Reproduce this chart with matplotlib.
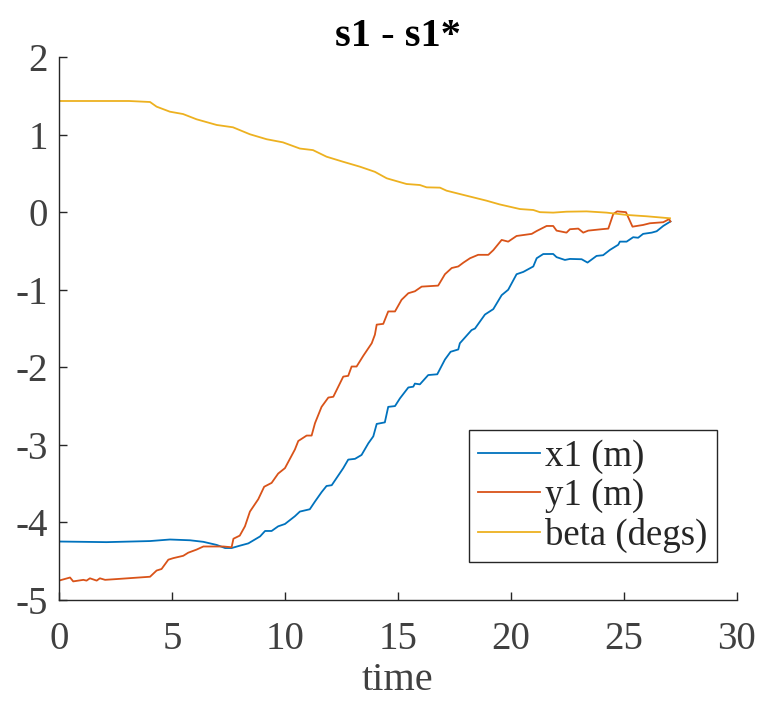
import matplotlib
matplotlib.use("Agg")
import matplotlib.pyplot as plt

# ---- data ----
x1_t = [0.0, 1.08, 2.1, 4.03, 4.91, 5.8, 6.39, 6.98, 7.35, 7.64, 8.0, 8.38, 8.9, 9.12, 9.41,
        9.7, 10.0, 10.44, 10.66, 11.1, 11.33, 11.62, 11.84, 12.07, 12.58, 12.8, 13.1, 13.39,
        13.69, 13.91, 14.06, 14.42, 14.57, 14.87, 15.09, 15.46, 15.68, 15.75, 15.97, 16.34,
        16.74, 17.08, 17.33, 17.67, 17.74, 18.26, 18.41, 18.85, 19.22, 19.59, 19.88, 20.25,
        20.55, 20.99, 21.14, 21.43, 21.87, 22.02, 22.39, 22.61, 23.13, 23.39, 23.79, 24.08,
        24.38, 24.75, 24.82, 25.12, 25.41, 25.63, 25.85, 26.23, 26.45, 26.74, 27.06]
x1_v = [-4.246, -4.25, -4.254, -4.24, -4.22, -4.23, -4.25, -4.29, -4.33, -4.33, -4.30, -4.27,
        -4.18, -4.11, -4.11, -4.05, -4.02, -3.92, -3.86, -3.83, -3.73, -3.61, -3.53, -3.52,
        -3.30, -3.19, -3.18, -3.13, -2.98, -2.89, -2.73, -2.71, -2.51, -2.50, -2.40, -2.26,
        -2.25, -2.21, -2.22, -2.10, -2.09, -1.90, -1.80, -1.77, -1.69, -1.52, -1.50, -1.32,
        -1.25, -1.07, -1.0, -0.80, -0.77, -0.70, -0.594, -0.54, -0.539, -0.58, -0.616, -0.603,
        -0.607, -0.65, -0.564, -0.555, -0.487, -0.42, -0.38, -0.38, -0.323, -0.33, -0.28,
        -0.264, -0.246, -0.178, -0.12]

y1_t = [0.0, 0.49, 0.63, 1.08, 1.22, 1.37, 1.67, 1.81, 2.04, 2.55, 4.03, 4.32, 4.54, 4.84,
        5.06, 5.5, 5.72, 6.09, 6.39, 7.27, 7.64, 7.72, 8.0, 8.23, 8.45, 8.82, 9.08, 9.41, 9.7,
        10.0, 10.44, 10.59, 10.96, 11.18, 11.33, 11.62, 11.92, 12.14, 12.58, 12.8, 12.95,
        13.17, 13.47, 13.84, 13.98, 14.06, 14.35, 14.57, 14.87, 15.16, 15.46, 15.75, 16.05,
        16.78, 17.08, 17.38, 17.67, 17.9, 18.19, 18.55, 19.0, 19.22, 19.59, 19.88, 20.25,
        20.92, 21.14, 21.58, 21.87, 22.02, 22.46, 22.61, 22.98, 23.2, 23.42, 24.01, 24.31,
        24.53, 24.7, 25.09, 25.38, 25.85, 26.15, 26.74, 27.0, 27.06]
y1_v = [-4.75, -4.71, -4.76, -4.74, -4.75, -4.72, -4.75, -4.72, -4.74, -4.73, -4.70, -4.62,
        -4.60, -4.48, -4.46, -4.43, -4.39, -4.35, -4.31, -4.31, -4.32, -4.21, -4.17, -4.05,
        -3.86, -3.70, -3.54, -3.49, -3.37, -3.30, -3.06, -2.95, -2.88, -2.88, -2.72, -2.51,
        -2.39, -2.38, -2.12, -2.11, -1.99, -1.99, -1.85, -1.69, -1.58, -1.45, -1.44, -1.28,
        -1.28, -1.13, -1.045, -1.02, -0.96, -0.947, -0.80, -0.72, -0.70, -0.65, -0.594, -0.55,
        -0.55, -0.49, -0.358, -0.38, -0.307, -0.28, -0.243, -0.178, -0.178, -0.238, -0.264,
        -0.22, -0.212, -0.264, -0.238, -0.22, -0.212, -0.023, 0.01, 0.0, -0.187, -0.165,
        -0.143, -0.13, -0.09, -0.12]

beta_t = [0.0, 3.1, 4.03, 4.32, 4.91, 5.49, 6.09, 6.98, 7.7, 8.45, 9.19, 9.91, 10.66, 11.24,
          11.84, 12.57, 13.32, 13.98, 14.5, 14.65, 15.38, 15.97, 16.27, 16.86, 17.15, 17.9,
          18.92, 19.5, 20.4, 20.99, 21.28, 21.87, 22.46, 23.35, 24.23, 25.12, 26.0, 27.04]
beta_v = [1.433, 1.433, 1.42, 1.36, 1.295, 1.265, 1.197, 1.124, 1.094, 1.004, 0.94, 0.90,
          0.82, 0.80, 0.715, 0.65, 0.586, 0.52, 0.437, 0.424, 0.363, 0.35, 0.32, 0.316, 0.277,
          0.222, 0.148, 0.10, 0.04, 0.028, 0.0, -0.006, 0.006, 0.01, -0.006, -0.036, -0.053,
          -0.079]

labels = ["x1 (m)", "y1 (m)", "beta (degs)"]
colors = ["#0072BD", "#D95319", "#EDB120"]
x_ticks = [0, 5, 10, 15, 20, 25, 30]
y_ticks = [-5, -4, -3, -2, -1, 0, 1, 2]

plt.rcParams['font.family'] = ['Liberation Serif', 'DejaVu Serif']

fig = plt.figure(figsize=(7.6, 7.03), dpi=100)
ax = fig.add_axes([0.0776, 0.1465, 0.892, 0.7724])

ax.plot(x1_t, x1_v, color=colors[0], lw=1.3, label=labels[0])
ax.plot(y1_t, y1_v, color=colors[1], lw=1.3, label=labels[1])
ax.plot(beta_t, beta_v, color=colors[2], lw=1.3, label=labels[2])

ax.set_xlim(0, 30)
ax.set_ylim(-5, 2)
ax.set_xticks(x_ticks)
ax.set_yticks(y_ticks)
ax.set_yticklabels([str(v) for v in y_ticks])

for s in ["top", "right"]:
    ax.spines[s].set_visible(False)
for s in ["left", "bottom"]:
    ax.spines[s].set_color("#262626")
    ax.spines[s].set_linewidth(1.0)

ax.tick_params(direction="in", length=6, width=1.0, color="#262626",
               labelsize=28, labelcolor="#404040")
ax.tick_params(axis="x", pad=15)
ax.tick_params(axis="y", pad=8)

ax.set_xlabel("time", fontsize=29, color="#404040", labelpad=3)
ax.set_title("s1 - s1*", fontsize=29, fontweight="bold", color="#000000", pad=8)

leg = ax.legend(loc="lower right", bbox_to_anchor=(0.9705, 0.07), fontsize=26.5,
                frameon=True, fancybox=False, edgecolor="#262626", framealpha=1,
                handlelength=1.68, handletextpad=0.15, labelspacing=0.12,
                borderpad=0.25, borderaxespad=0)
leg.get_frame().set_linewidth(1.0)
for t in leg.get_texts():
    t.set_color("#262626")

fig.savefig("out.png", dpi=100)
